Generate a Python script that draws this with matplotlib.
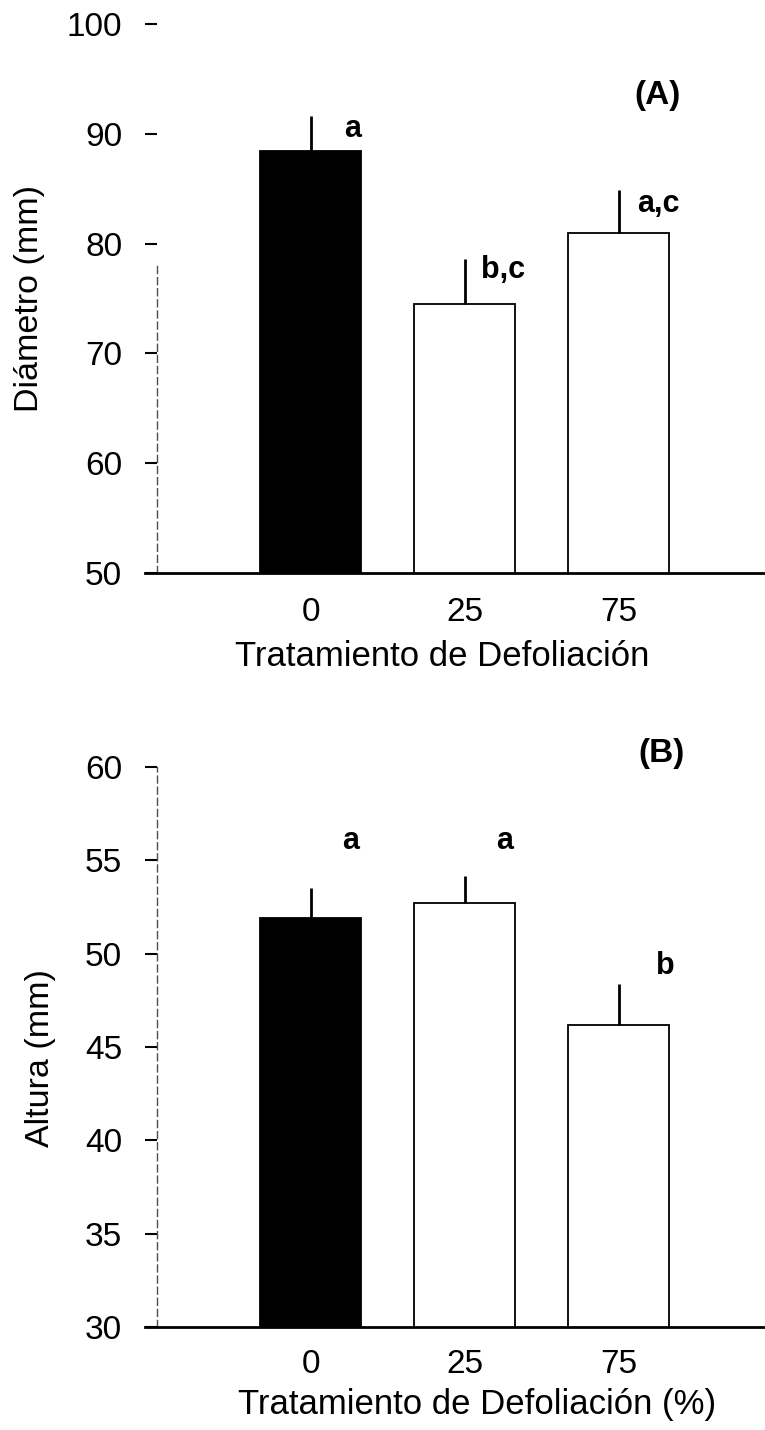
import matplotlib.pyplot as plt

plt.rcParams['font.family'] = ['Liberation Sans', 'DejaVu Sans']

# datos
tratamientos = ['0', '25', '75']
diametro = [88.4, 74.5, 81.0]
diametro_err = [3.2, 4.1, 3.9]
diametro_letras = ['a', 'b,c', 'a,c']
altura = [51.9, 52.7, 46.2]
altura_err = [1.6, 1.45, 2.2]
altura_letras = ['a', 'a', 'b']

colores = ['black', 'white', 'white']

W, H = 765, 1430
fig = plt.figure(figsize=(W / 100, H / 100), dpi=100)


def axes_px(left, top, right, bottom):
    return fig.add_axes([left / W, 1 - bottom / H, (right - left) / W, (bottom - top) / H])


def panel(ax, values, errs, letters, letter_pos, ylim, yticks, ylabel, xlabel,
          tag, tag_pos, spine_top, xpad, xlabel_xy, ylabel_xy):
    x = list(range(len(tratamientos)))
    ax.bar(x, values, width=0.656, color=colores, edgecolor='black', linewidth=1.3, zorder=2)
    ax.errorbar(x, values, yerr=[[0] * len(errs), errs], fmt='none', ecolor='black',
                elinewidth=2, capsize=0, zorder=3)
    for xi, lab, (dx, ly) in zip(x, letters, letter_pos):
        ax.text(xi + dx, ly, lab, ha='center', va='baseline', fontsize=22, fontweight='bold')
    ax.text(tag_pos[0], tag_pos[1], tag, ha='center', va='center', fontsize=24, fontweight='bold')

    ax.set_xlim(-1.0, 2.95)
    ax.set_ylim(*ylim)
    ax.set_yticks(yticks)
    ax.set_xticks(x)
    ax.set_xticklabels(tratamientos)

    ax.spines['top'].set_visible(False)
    ax.spines['right'].set_visible(False)
    ax.spines['left'].set_linestyle((0, (5, 3)))
    ax.spines['left'].set_linewidth(1.0)
    ax.spines['left'].set_color('0.3')
    ax.spines['left'].set_bounds(ylim[0], spine_top)
    ax.spines['bottom'].set_linewidth(2)
    ax.spines['bottom'].set_bounds(-1.0 - 12 / 154, 2.95)

    ax.tick_params(axis='y', direction='out', length=9, width=1.5, pad=16, labelsize=24)
    ax.tick_params(axis='x', length=0, pad=xpad, labelsize=24)

    ax.set_ylabel(ylabel, fontsize=24.5, va='center')
    ax.yaxis.set_label_coords(*ylabel_xy)
    ax.set_xlabel(xlabel, fontsize=25, ha='left')
    ax.xaxis.set_label_coords(*xlabel_xy)


axA = axes_px(157, 24, 765, 573)
axB = axes_px(157, 767, 765, 1327)

panel(axA, diametro, diametro_err, diametro_letras,
      [(0.27, 89.7), (0.25, 76.9), (0.26, 82.9)],
      (50, 100), [50, 60, 70, 80, 90, 100],
      'Diámetro (mm)', 'Tratamiento de Defoliación',
      '(A)', (2.25, 93.5), 78, 17, (0.128, -0.122), (-0.21, 0.5))

panel(axB, altura, altura_err, altura_letras,
      [(0.26, 55.6), (0.26, 55.6), (0.30, 48.9)],
      (30, 60), [30, 35, 40, 45, 50, 55, 60],
      'Altura (mm)', 'Tratamiento de Defoliación (%)',
      '(B)', (2.28, 60.7), 60, 15.5, (0.133, -0.109), (-0.192, 0.48))

fig.savefig('out.png', dpi=100)
